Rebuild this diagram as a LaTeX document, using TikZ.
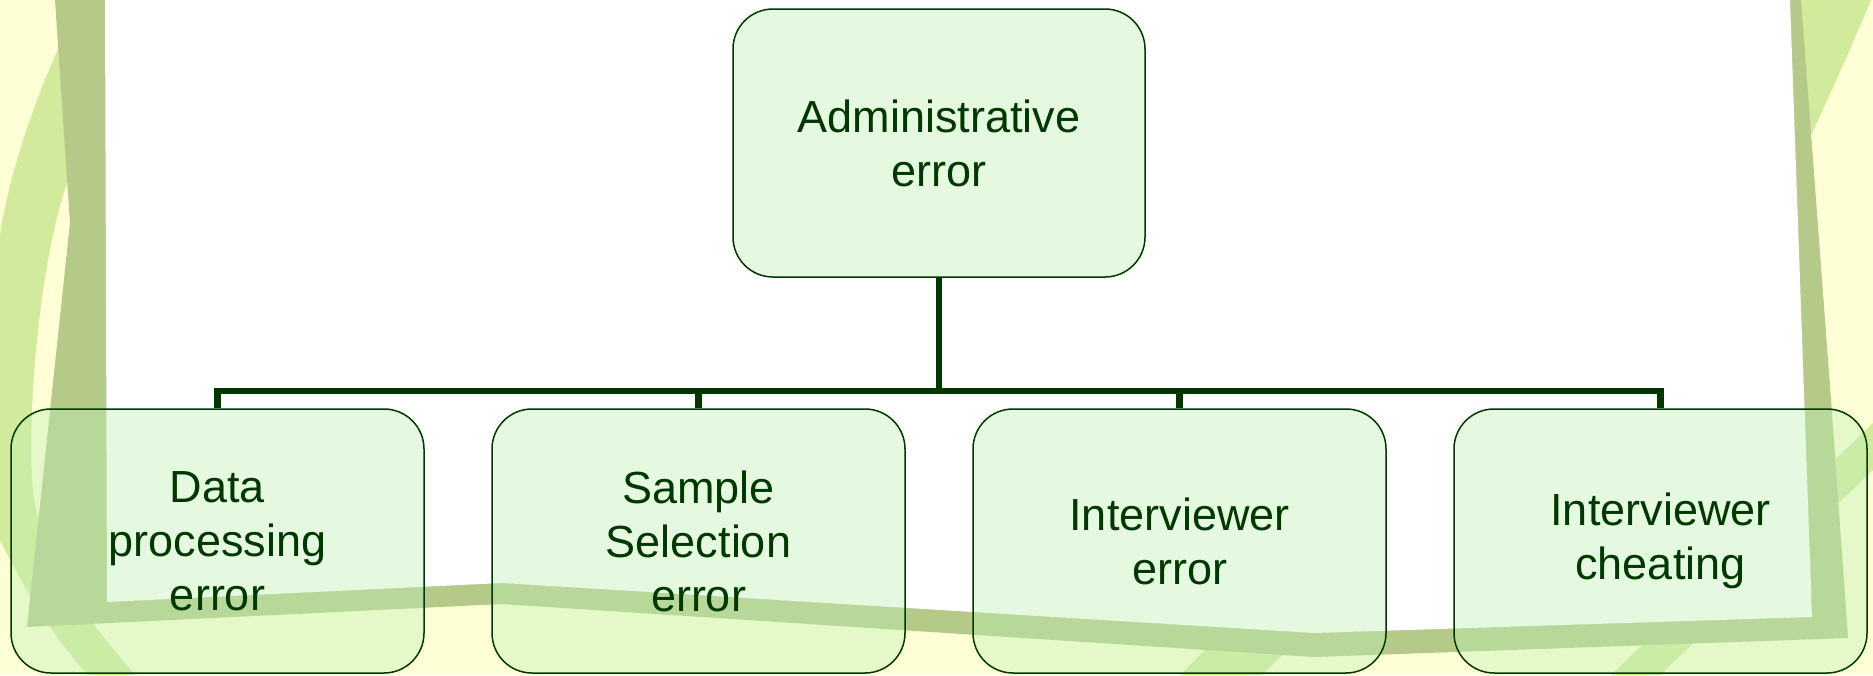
\documentclass[tikz,border=0pt]{standalone}
\usepackage{fontspec}
\setmainfont{Liberation Sans}
\definecolor{bgyellow}{RGB}{255,255,214}
\definecolor{bandolive}{RGB}{181,201,137}
\definecolor{lightgr}{RGB}{210,234,155}
\definecolor{dkgreen}{RGB}{0,56,0}
\definecolor{boxfill}{RGB}{190,240,180}
\begin{document}
\begin{tikzpicture}[x=1pt,y=-1pt,
  box/.style={draw=dkgreen, line width=1.5pt, rounded corners=40pt, fill=boxfill,
    fill opacity=0.4, draw opacity=1, text opacity=1, text=dkgreen, align=center,
    inner sep=0pt, font=\fontsize{45}{54}\selectfont},
  topbox/.style={box, minimum width=412pt, minimum height=268pt},
  leafbox/.style={box, minimum width=413pt, minimum height=264pt},
  conn/.style={draw=dkgreen, line width=6.5pt}]
\useasboundingbox (0,0) rectangle (1873,675);
\clip (0,0) rectangle (1873,675);
% background
\fill[bgyellow] (0,0) rectangle (1873,675);
% light green ribbons
\fill[lightgr] (60,45) .. controls (35,100) and (10,170) .. (0,235) -- (0,540)
  .. controls (30,600) and (60,645) .. (88,675) -- (135,675)
  .. controls (80,610) and (38,560) .. (32,480)
  .. controls (28,400) and (40,260) .. (68,180) -- (66,40) -- cycle;
\fill[lightgr] (1798,0) -- (1871,0) .. controls (1850,50) and (1830,95) .. (1811,135) -- cycle;
\fill[lightgr] (1180,675) -- (1262,675) -- (1402,535) -- (1320,535) -- cycle;
\fill[lightgr] (1611,675) -- (1660,675) -- (1873,470) -- (1873,423) -- cycle;
% olive frame band
\fill[bandolive] (55,0) -- (1801,0) -- (1831,400) -- (1848,638) -- (1314,657)
  -- (502,604) -- (27,627) -- (70,223) -- cycle;
% white panel
\fill[white] (105,0) -- (1790,0) -- (1812,617) -- (1314,633) -- (502,583) -- (107,602) -- cycle;
% nodes
\node[topbox] (top) at (939,143) {Administrative\\error};
\node[leafbox] (b1) at (217.5,541) {Data\\processing\\error};
\node[leafbox] (b2) at (698.5,541) {Sample\\Selection\\error};
\node[leafbox] (b3) at (1179.5,541) {Interviewer\\error};
\node[leafbox] (b4) at (1660.5,541) {Interviewer\\cheating};
% connectors
\coordinate (j) at (939,391);
\draw[conn] (top.south) -- (j);
\draw[conn] (j) -| (b1.north);
\draw[conn] (j) -| (b2.north);
\draw[conn] (j) -| (b3.north);
\draw[conn] (j) -| (b4.north);
\end{tikzpicture}
\end{document}
